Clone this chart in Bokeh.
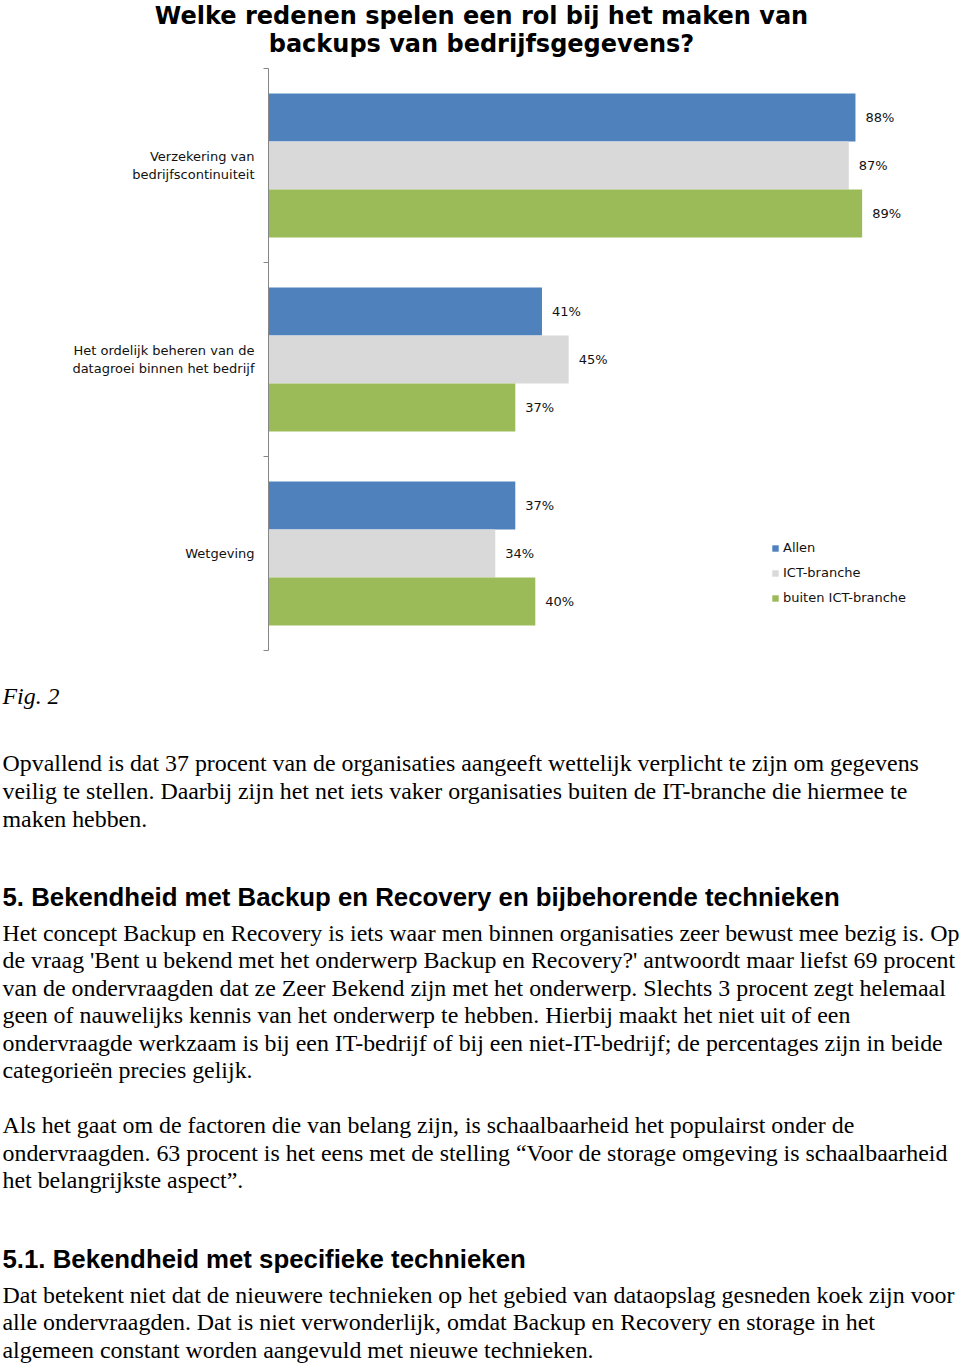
from bokeh.plotting import figure
from bokeh.layouts import column
from bokeh.models import (Range1d, FactorRange, LinearAxis, CategoricalAxis, FixedTicker,
                          ColumnDataSource, Legend, LegendItem)
from bokeh.transform import dodge
from bokeh.core.properties import value
from bokeh.embed import file_html
from bokeh.resources import INLINE

# ---------------- data ----------------
title_lines = ["Welke redenen spelen een rol bij het maken van",
               "backups van bedrijfsgegevens?"]
categories = ["Verzekering van\nbedrijfscontinuiteit",
              "Het ordelijk beheren van de\ndatagroei binnen het bedrijf",
              "Wetgeving"]
series = ["Allen", "ICT-branche", "buiten ICT-branche"]
allen = [88, 41, 37]
ict = [87, 45, 34]
buiten = [89, 37, 40]
colors = ["#4F81BD", "#D9D9D9", "#9BBB59"]

fig_caption = "Fig. 2"
para1 = ["Opvallend is dat 37 procent van de organisaties aangeeft wettelijk verplicht te zijn om gegevens",
         "veilig te stellen. Daarbij zijn het net iets vaker organisaties buiten de IT-branche die hiermee te",
         "maken hebben."]
heading1 = "5. Bekendheid met Backup en Recovery en bijbehorende technieken"
para2 = ["Het concept Backup en Recovery is iets waar men binnen organisaties zeer bewust mee bezig is. Op",
         "de vraag 'Bent u bekend met het onderwerp Backup en Recovery?' antwoordt maar liefst 69 procent",
         "van de ondervraagden dat ze Zeer Bekend zijn met het onderwerp. Slechts 3 procent zegt helemaal",
         "geen of nauwelijks kennis van het onderwerp te hebben. Hierbij maakt het niet uit of een",
         "ondervraagde werkzaam is bij een IT-bedrijf of bij een niet-IT-bedrijf; de percentages zijn in beide",
         "categorieën precies gelijk."]
para3 = ["Als het gaat om de factoren die van belang zijn, is schaalbaarheid het populairst onder de",
         "ondervraagden. 63 procent is het eens met de stelling \u201cVoor de storage omgeving is schaalbaarheid",
         "het belangrijkste aspect\u201d."]
heading2 = "5.1. Bekendheid met specifieke technieken"
para4 = ["Dat betekent niet dat de nieuwere technieken op het gebied van dataopslag gesneden koek zijn voor",
         "alle ondervraagden. Dat is niet verwonderlijk, omdat Backup en Recovery en storage in het",
         "algemeen constant worden aangevuld met nieuwe technieken."]

W = 960
CHART_FONT = value("DejaVu Sans")
TXT = "#111111"

# ---------------- title ----------------
TH = 64
tf = figure(width=W, height=TH, x_range=Range1d(0, W), y_range=Range1d(TH, 0),
            output_backend="svg", toolbar_location=None, min_border=0, frame_align=False,
            x_axis_location=None, y_axis_location=None, outline_line_color=None)
tf.grid.visible = False
tf.text(x=[481, 481], y=[15, 43], text=title_lines, text_align="center",
        text_baseline="alphabetic", text_font=CHART_FONT, text_font_style="bold",
        text_font_size=value("24px"), text_color="#000000")

# ---------------- chart ----------------
CH = 600
p = figure(width=W, height=CH, x_range=Range1d(0, 100),
           y_range=FactorRange(factors=categories[::-1], range_padding=0),
           output_backend="svg", toolbar_location=None, frame_align=False,
           min_border_left=268, min_border_right=25, min_border_top=4, min_border_bottom=14,
           x_axis_location=None, y_axis_location=None, outline_line_color=None)
p.grid.visible = False

src = ColumnDataSource(dict(
    cat=categories, allen=allen, ict=ict, buiten=buiten,
    allen_lbl=[f"{v}%" for v in allen], ict_lbl=[f"{v}%" for v in ict],
    buiten_lbl=[f"{v}%" for v in buiten]))

bar_h = 48 / 194
offsets = [bar_h, 0.0, -bar_h]
keys = ["allen", "ict", "buiten"]
items = []
for key, off, col, name in zip(keys, offsets, colors, series):
    r = p.hbar(y=dodge("cat", off, range=p.y_range), left=0, right=key, height=bar_h,
               source=src, fill_color=col, line_color=None)
    p.text(x=key, y=dodge("cat", off, range=p.y_range), text=key + "_lbl", source=src,
           x_offset=10, text_baseline="middle", text_align="left",
           text_font=CHART_FONT, text_font_size=value("13px"), text_color=TXT)
    items.append(LegendItem(label=name, renderers=[r]))

group_edges = [0, 1, 2, 3]
tick_axis = LinearAxis(ticker=FixedTicker(ticks=group_edges),
                       major_label_overrides={e: "" for e in group_edges},
                       axis_line_color="#868686", major_tick_line_color="#868686",
                       major_tick_in=0, major_tick_out=5, minor_tick_line_color=None,
                       major_label_standoff=0)
p.add_layout(tick_axis, "left")
cat_axis = CategoricalAxis(axis_line_color=None, major_tick_line_color=None,
                           major_tick_in=0, major_tick_out=0, major_label_standoff=9,
                           major_label_text_font=CHART_FONT.value,
                           major_label_text_font_size="13px",
                           major_label_text_color=TXT)
p.add_layout(cat_axis, "left")

legend = Legend(items=items, location=(503, 45), padding=0, margin=0, spacing=10,
                glyph_width=8, glyph_height=8, label_height=8, label_standoff=4,
                border_line_color=None, background_fill_alpha=0,
                label_text_font=CHART_FONT.value, label_text_font_size="13px",
                label_text_color=TXT)
p.add_layout(legend)

# ---------------- prose ----------------
PH = 1365 - TH - CH
OFF = TH + CH
pf = figure(width=W, height=PH, x_range=Range1d(0, W), y_range=Range1d(PH, 0),
            output_backend="svg", toolbar_location=None, min_border=0, frame_align=False,
            x_axis_location=None, y_axis_location=None, outline_line_color=None)
pf.grid.visible = False

SERIF = value("Liberation Serif")
SANS = value("Liberation Sans")

def lines(txts, ys, font, size, style="normal"):
    pf.text(x=[2] * len(txts), y=[y - 1 - OFF for y in ys], text=txts, text_align="left",
            text_baseline="alphabetic", text_font=font, text_font_size=value(size),
            text_font_style=style, text_color="#000000")

BODY = "23.9px"
HEAD = "25.8px"
lines([fig_caption], [696], SERIF, BODY, "italic")
lines(para1, [763, 791, 819], SERIF, BODY)
lines([heading1], [897], SANS, HEAD, "bold")
lines(para2, [933, 960, 988, 1015, 1043, 1070], SERIF, BODY)
lines(para3, [1125, 1153, 1180], SERIF, BODY)
lines([heading2], [1259], SANS, HEAD, "bold")
lines(para4, [1295, 1322, 1350], SERIF, BODY)

layout = column(tf, p, pf, spacing=0)
open("out.html", "w").write(file_html(layout, INLINE))
